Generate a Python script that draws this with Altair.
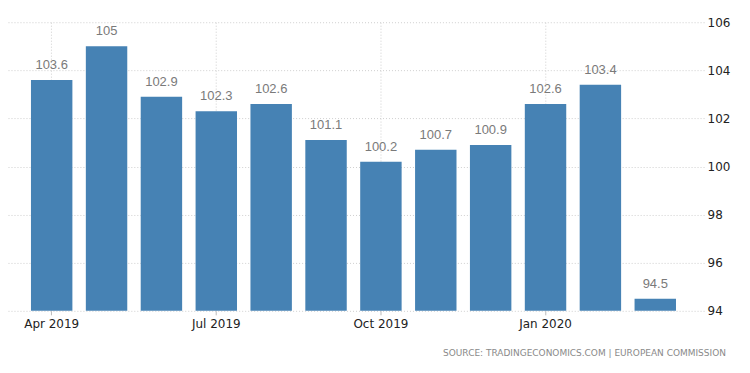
import altair as alt
import pandas as pd

months = ["Apr 2019", "May 2019", "Jun 2019", "Jul 2019", "Aug 2019", "Sep 2019",
          "Oct 2019", "Nov 2019", "Dec 2019", "Jan 2020", "Feb 2020", "Mar 2020"]
values = [103.6, 105, 102.9, 102.3, 102.6, 101.1, 100.2, 100.7, 100.9, 102.6, 103.4, 94.5]
shown_labels = ["Apr 2019", "Jul 2019", "Oct 2019", "Jan 2020"]
y_ticks = [94, 96, 98, 100, 102, 104, 106]
y_min, y_max = 94, 106

df = pd.DataFrame({"month": months, "value": values})
df["label"] = df["value"].map(lambda v: f"{v:g}")

shown_js = "[" + ",".join(f"'{s}'" for s in shown_labels) + "]"

x_enc = alt.X(
    "month:N", sort=months, title=None,
    scale=alt.Scale(paddingInner=0.245, paddingOuter=0.465, align=0.45),
    axis=alt.Axis(
        labelAngle=0, domain=False, grid=True, bandPosition=0.5,
        gridColor="#cfcfcf", gridDash=[1, 2],
        gridOpacity={"condition": {"test": f"indexof({shown_js}, datum.value) >= 0", "value": 1}, "value": 0},
        tickOpacity={"condition": {"test": f"indexof({shown_js}, datum.value) >= 0", "value": 1}, "value": 0},
        tickColor="#bbbbbb", tickSize=4,
        labelExpr=f"indexof({shown_js}, datum.label) >= 0 ? datum.label : ''",
        labelFont="DejaVu Sans", labelFontSize=12, labelColor="#222222", labelPadding=4,
    ),
)

y_enc = alt.Y(
    "value:Q", title=None,
    scale=alt.Scale(domain=[y_min, y_max], zero=False, nice=False),
    axis=alt.Axis(
        orient="right", values=y_ticks, domain=False, ticks=False,
        gridColor="#cfcfcf", gridDash=[1, 2],
        labelFont="DejaVu Sans", labelFontSize=12, labelColor="#222222", labelPadding=3,
    ),
)

bars = alt.Chart(df).mark_bar(color="#4682b4").encode(x=x_enc, y=y_enc, y2=alt.datum(y_min))

labels = alt.Chart(df).mark_text(
    baseline="bottom", dy=-8, font="Liberation Sans", fontSize=13, color="#7a7a7a"
).encode(x=alt.X("month:N", sort=months), y="value:Q", text="label:N")

chart = alt.layer(bars, labels).properties(
    width=697, height=289,
    autosize=alt.AutoSizeParams(type="none"),
    padding={"left": 0, "top": 14, "right": 38, "bottom": 50},
    title=alt.TitleParams(
        "SOURCE: TRADINGECONOMICS.COM  |  EUROPEAN COMMISSION",
        orient="bottom", anchor="end", font="DejaVu Sans", fontSize=9,
        fontWeight="normal", color="#8a8a8a", offset=19, dx=-4,
    ),
).configure_view(stroke=None)

chart.save("out.html", embed_options={"renderer": "svg", "actions": False})
